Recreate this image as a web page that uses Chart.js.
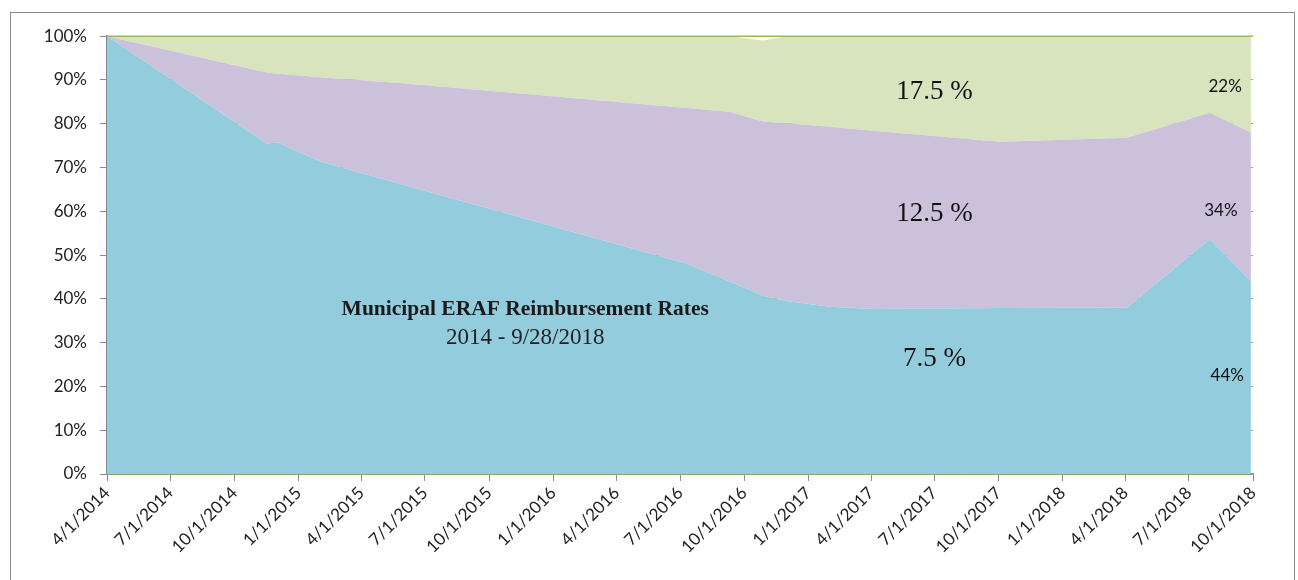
<!DOCTYPE html>
<html>
<head>
<meta charset="utf-8">
<script src="https://cdn.jsdelivr.net/npm/chart.js@4.4.1/dist/chart.umd.min.js"></script>
<style>
  html, body { margin: 0; padding: 0; background: #fff; overflow: hidden; }
  body { width: 1298px; height: 580px; position: relative; }
  #frame {
    position: absolute; left: 10px; top: 12px;
    width: 1283px; height: 600px;
    border: 1px solid #8c8c8c;
  }
  #chartWrap { position: absolute; left: 0; top: 0; width: 1283px; height: 567px; }
</style>
</head>
<body>
<div id="frame">
  <div id="chartWrap"><canvas id="eraf"></canvas></div>
</div>
<script>
// Data
const pointDates = ['4/1/2014', '11/16/2014', '12/2/2014', '2/1/2015', '5/26/2015', '7/11/2016', '9/11/2016',
  '10/28/2016', '12/1/2016', '2/1/2017', '4/4/2017', '10/3/2017', '4/3/2018', '7/31/2018', '9/28/2018'];
const rate75 = [100, 75.5, 75.7, 71.4, 66.3, 48.0, 43.9, 40.7, 39.5, 38.2, 37.7, 37.9, 38.0, 53.6, 44];
const rate125 = [0, 16.2, 15.7, 19.2, 23.0, 35.6, 38.8, 39.8, 40.6, 41.1, 40.7, 38.0, 38.8, 28.9, 34];
const rate175 = [0, 8.3, 8.6, 9.4, 10.7, 16.4, 17.3, 18.5, 19.9, 20.7, 21.6, 24.1, 23.2, 17.5, 22];

const tickLabels = ['4/1/2014', '7/1/2014', '10/1/2014', '1/1/2015', '4/1/2015', '7/1/2015', '10/1/2015',
  '1/1/2016', '4/1/2016', '7/1/2016', '10/1/2016', '1/1/2017', '4/1/2017', '7/1/2017', '10/1/2017',
  '1/1/2018', '4/1/2018', '7/1/2018', '10/1/2018'];

// Text placed inside the plot (date, percent)
const noteTexts = ['17.5 %', '12.5 %', '7.5 %', '22%', '34%', '44%'];
const noteDates = ['7/1/2017', '7/1/2017', '7/1/2017', '8/22/2018', '8/16/2018', '8/25/2018'];
const noteValues = [87.3, 59.5, 26.4, 88.4, 60.2, 22.5];
const noteFonts = ['27px "Liberation Serif"', '27px "Liberation Serif"', '27px "Liberation Serif"',
  '17px Lato', '17px Lato', '17px Lato'];

const titleLines = ['Municipal ERAF Reimbursement Rates', '2014 - 9/28/2018'];
const titleDate = '11/22/2015';
const titleValues = [37.5, 31.1];

function dayNum(s) {
  const [m, d, y] = s.split('/').map(Number);
  return (Date.UTC(y, m - 1, d) - Date.UTC(2014, 3, 1)) / 864e5;
}

const toPoints = vals => vals.map((v, i) => ({ x: dayNum(pointDates[i]), y: v }));

const gridGreen = '#98b954';
const axisGray = '#898989';

// top 100% line and in-plot text
const overlayPlugin = {
  id: 'overlay',
  afterDatasetsDraw(chart) {
    const { ctx, chartArea, scales } = chart;
    const x = scales.x, y = scales.y;
    ctx.save();
    ctx.strokeStyle = gridGreen;
    ctx.lineWidth = 1.5;
    const yTop = y.getPixelForValue(100);
    ctx.beginPath();
    ctx.moveTo(chartArea.left, yTop);
    ctx.lineTo(chartArea.right, yTop);
    ctx.stroke();

    ctx.textAlign = 'center';
    ctx.textBaseline = 'middle';
    ctx.fillStyle = '#111';
    noteTexts.forEach((t, i) => {
      ctx.font = noteFonts[i];
      ctx.fillText(t, x.getPixelForValue(dayNum(noteDates[i])), y.getPixelForValue(noteValues[i]));
    });
    ctx.font = 'bold 21.5px "Liberation Serif"';
    ctx.fillStyle = '#1a1a1a';
    ctx.fillText(titleLines[0], x.getPixelForValue(dayNum(titleDate)), y.getPixelForValue(titleValues[0]));
    ctx.font = '23px "Liberation Serif"';
    ctx.fillStyle = '#222';
    ctx.fillText(titleLines[1], x.getPixelForValue(dayNum(titleDate)), y.getPixelForValue(titleValues[1]));
    ctx.restore();
  }
};

const ctx = document.getElementById('eraf').getContext('2d');
new Chart(ctx, {
  type: 'line',
  data: {
    datasets: [
      { label: '7.5 %', data: toPoints(rate75), backgroundColor: '#93cddd', fill: 'origin' },
      { label: '12.5 %', data: toPoints(rate125), backgroundColor: '#ccc1da', fill: '-1' },
      { label: '17.5 %', data: toPoints(rate175), backgroundColor: '#d7e4bd', fill: '-1' }
    ]
  },
  options: {
    responsive: true,
    maintainAspectRatio: false,
    animation: false,
    events: [],
    elements: {
      line: { borderWidth: 0, tension: 0 },
      point: { radius: 0 }
    },
    layout: { padding: { top: 21, right: 41, left: 0, bottom: 0 } },
    plugins: {
      legend: { display: false },
      tooltip: { enabled: false }
    },
    scales: {
      x: {
        type: 'linear',
        min: 0,
        max: dayNum('10/1/2018'),
        afterBuildTicks: scale => {
          scale.ticks = tickLabels.map(t => ({ value: dayNum(t) }));
        },
        afterFit: scale => { scale.height = 106; },
        ticks: {
          autoSkip: false,
          maxRotation: 45,
          minRotation: 45,
          padding: 2,
          color: '#222',
          font: { family: 'Lato', size: 17 },
          callback: (value, index) => tickLabels[index]
        },
        grid: {
          drawOnChartArea: false,
          drawTicks: true,
          tickLength: 7,
          tickColor: axisGray
        },
        border: { color: axisGray, width: 1.5 }
      },
      y: {
        stacked: true,
        min: 0,
        max: 100,
        afterFit: scale => { scale.width = 96; },
        ticks: {
          stepSize: 10,
          padding: 13,
          color: '#222',
          font: { family: 'Lato', size: 17 },
          callback: v => v + '%'
        },
        grid: {
          color: gridGreen,
          tickLength: 7,
          tickColor: axisGray
        },
        border: { color: axisGray, width: 1.5 }
      }
    }
  },
  plugins: [overlayPlugin]
});
</script>
</body>
</html>
